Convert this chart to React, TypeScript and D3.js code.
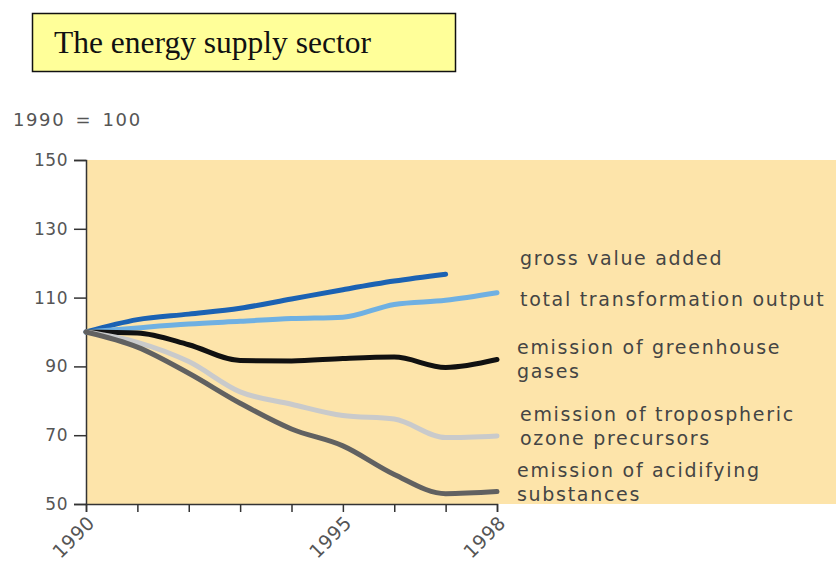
import * as d3 from 'd3'
import { useEffect, useRef } from 'react'

const width = 836, height = 564

const years = [1990, 1991, 1992, 1993, 1994, 1995, 1996, 1997, 1998]
const yTicks = [50, 70, 90, 110, 130, 150]
const xLabels = [1990, 1995, 1998]

// values, 1990 = 100
const grossValue = [100, 103.6, 105.2, 106.9, 109.6, 112.3, 114.8, 116.8]
const transformation = [100, 101.2, 102.3, 103.1, 103.9, 104.3, 108.0, 109.2, 111.4]
const greenhouse = [100, 99.7, 96.3, 91.7, 91.6, 92.3, 92.7, 89.7, 92.0]
const ozone = [100, 97.0, 91.4, 82.6, 79.0, 75.7, 74.7, 69.3, 69.8]
const acidifying = [100, 95.6, 88.0, 79.3, 71.8, 66.9, 58.6, 53.0, 53.6]

const series = [
  { name: 'gross', values: grossValue, color: '#1b62b3' },
  { name: 'transformation', values: transformation, color: '#6fb0e2' },
  { name: 'greenhouse', values: greenhouse, color: '#111111' },
  { name: 'ozone', values: ozone, color: '#c9cacb' },
  { name: 'acidifying', values: acidifying, color: '#616161' },
]

const labels = [
  { lines: ['gross value added'], x: 520, y: 265 },
  { lines: ['total transformation output'], x: 520, y: 306 },
  { lines: ['emission of greenhouse', 'gases'], x: 517, y: 354 },
  { lines: ['emission of tropospheric', 'ozone precursors'], x: 520, y: 421 },
  { lines: ['emission of acidifying', 'substances'], x: 517, y: 477 },
]

const font = 'DejaVu Sans, sans-serif'

const chart = (node: SVGSVGElement) => {
  const svg = d3.select(node)
  svg.selectAll('*').remove()

  const x = d3.scaleLinear().domain([1990, 1998]).range([86, 497])
  const y = d3.scaleLinear().domain([50, 150]).range([504, 160])

  // title box
  svg.append('rect')
    .attr('x', 32.5).attr('y', 13.5).attr('width', 423).attr('height', 58)
    .attr('fill', '#ffff99').attr('stroke', '#111').attr('stroke-width', 1.5)
  svg.append('text')
    .attr('x', 54).attr('y', 53)
    .attr('font-family', 'Liberation Serif, Times New Roman, serif')
    .attr('font-size', 31.5)
    .attr('fill', '#111')
    .text('The energy supply sector')

  svg.append('text')
    .attr('x', 13).attr('y', 126)
    .attr('font-family', font)
    .attr('font-size', 18)
    .attr('letter-spacing', 1.6)
    .attr('word-spacing', 3)
    .attr('fill', '#555')
    .text('1990 = 100')

  // plot background
  svg.append('rect')
    .attr('x', x(1990)).attr('y', y(150))
    .attr('width', width - x(1990)).attr('height', y(50) - y(150))
    .attr('fill', '#fde4aa')

  const yAxis = svg.append('g')
    .attr('transform', `translate(${x(1990)},0)`)
    .call(d3.axisLeft(y).tickValues(yTicks).tickSize(12).tickPadding(6))
  yAxis.select('.domain').attr('stroke', '#333').attr('stroke-width', 1.5)
  yAxis.selectAll('.tick line').attr('stroke', '#333').attr('stroke-width', 1.5)
  yAxis.selectAll('.tick text')
    .attr('font-family', font)
    .attr('font-size', 17)
    .attr('letter-spacing', 0.5)
    .attr('fill', '#555')

  const xAxis = svg.append('g')
    .attr('transform', `translate(0,${y(50)})`)
    .call(d3.axisBottom(x).tickValues(years).tickSize(8).tickFormat(() => ''))
  xAxis.select('.domain').attr('stroke', '#333').attr('stroke-width', 1.5)
  xAxis.selectAll('.tick line').attr('stroke', '#333').attr('stroke-width', 1.5)

  svg.append('g')
    .selectAll('text')
    .data(xLabels)
    .join('text')
    .attr('transform', d => `translate(${x(d) + 10},${y(50) + 20}) rotate(-45)`)
    .attr('text-anchor', 'end')
    .attr('font-family', font)
    .attr('font-size', 19)
    .attr('letter-spacing', 0.5)
    .attr('fill', '#555')
    .text(d => d)

  const line = d3.line<number>()
    .x((_, i) => x(years[i]))
    .y(d => y(d))
    .curve(d3.curveMonotoneX)

  svg.append('g')
    .selectAll('path')
    .data(series)
    .join('path')
    .attr('d', d => line(d.values))
    .attr('fill', 'none')
    .attr('stroke', d => d.color)
    .attr('stroke-width', 5)
    .attr('stroke-linejoin', 'round')
    .attr('stroke-linecap', 'round')

  const lab = svg.append('g')
    .attr('font-family', font)
    .attr('font-size', 19)
    .attr('letter-spacing', 1.7)
    .attr('fill', '#444')
  labels.forEach(l => {
    lab.append('text')
      .attr('x', l.x).attr('y', l.y)
      .selectAll('tspan')
      .data(l.lines)
      .join('tspan')
      .attr('x', l.x)
      .attr('dy', (_, i) => i ? 24 : 0)
      .text(d => d)
  })
}

export default function App() {
  const ref = useRef<SVGSVGElement>(null)
  useEffect(() => {
    if (ref.current) chart(ref.current)
  }, [])
  return (
    <svg
      ref={ref}
      width={width}
      height={height}
      style={{ position: 'absolute', left: 0, top: 0, background: '#fff' }}
    />
  )
}
